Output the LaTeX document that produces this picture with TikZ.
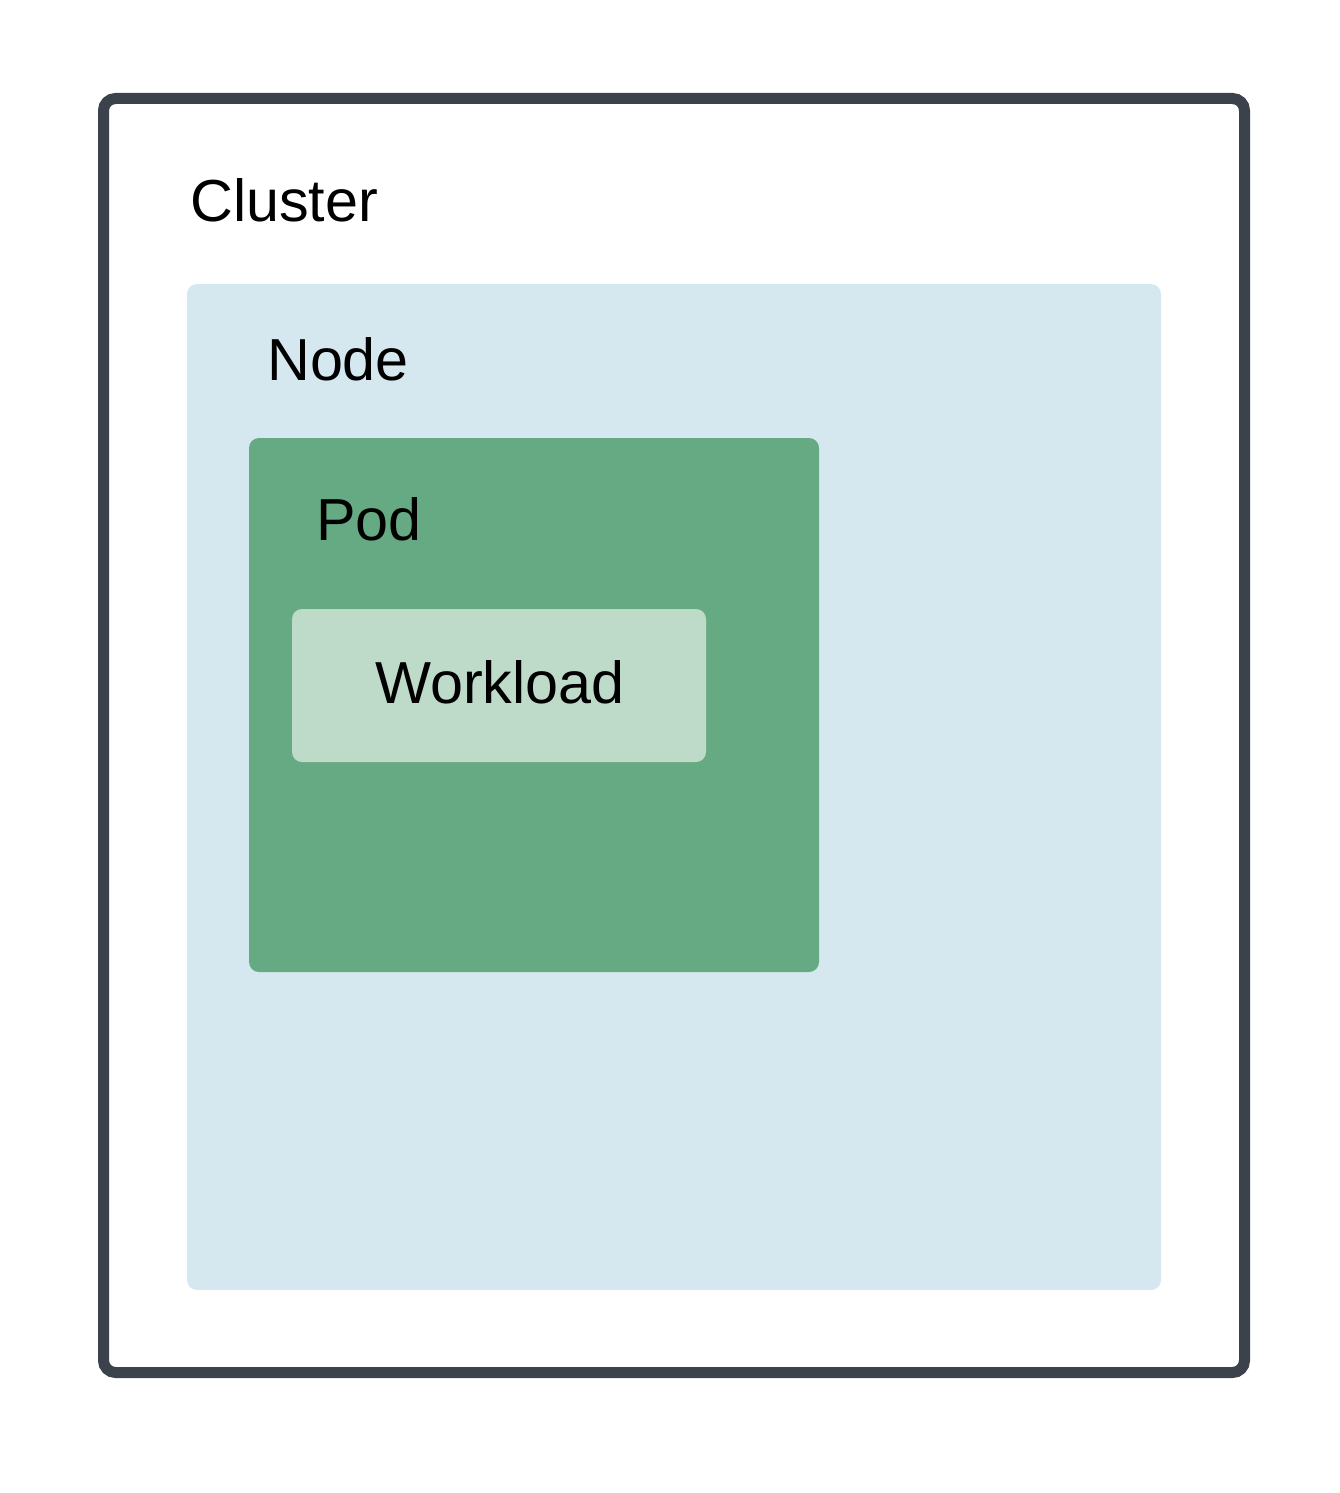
\documentclass[tikz,border=0pt]{standalone}
\usepackage{fontspec}
\setmainfont{Liberation Sans}
\definecolor{frame}{HTML}{3B424B}
\definecolor{nodefill}{HTML}{D5E8EF}
\definecolor{podfill}{HTML}{66AA83}
\definecolor{wlfill}{HTML}{BEDBC9}
\begin{document}
\begin{tikzpicture}[x=1pt,y=-1pt,
  lbl/.style={font=\fontsize{59.3}{70}\selectfont, inner sep=0pt, text=black}]
\useasboundingbox (0,0) rectangle (1340,1493);
\draw[frame, line width=11pt, rounded corners=12pt] (103.5,98.5) rectangle (1244.5,1372.5);
\node[lbl, anchor=base west] (cl) at (190,221) {Cluster};
\fill[nodefill, rounded corners=10pt] (187,284) rectangle (1161,1290);
\node[lbl, anchor=base west] (nd) at (267,380) {Node};
\fill[podfill, rounded corners=10pt] (249,438) rectangle (819,972);
\node[lbl, anchor=base west] (pd) at (316,540) {Pod};
\fill[wlfill, rounded corners=10pt] (292,609) rectangle (706,762);
\node[lbl, anchor=base] (wl) at (500,703) {Workload};
\end{tikzpicture}
\end{document}
